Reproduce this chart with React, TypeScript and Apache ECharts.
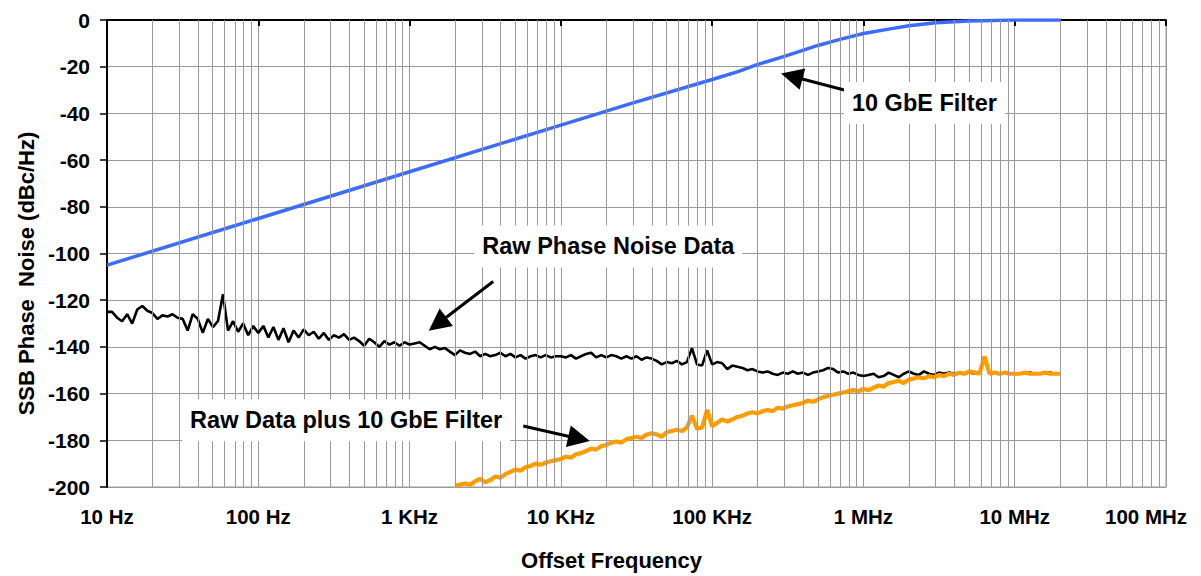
import React, { useEffect, useRef } from "react";
import * as echarts from "echarts";

// ---- axis definitions ----
const FREQ_TICK_LABELS = ["10 Hz", "100 Hz", "1 KHz", "10 KHz", "100 KHz", "1 MHz", "10 MHz", "100 MHz"];
const FREQ_MIN = 10;
const FREQ_MAX = 1e8;
const DB_MIN = -200;
const DB_MAX = 0;
const DB_STEP = 20;
const X_TITLE = "Offset Frequency";
const Y_TITLE = "SSB Phase  Noise (dBc/Hz)";

// ---- 10 GbE filter (blue) ----
const filterFreqHz = [10, 100, 1e3, 1e4, 3e4, 1e5, 1.5e5, 2e5, 3e5, 5e5, 7e5, 1e6, 1.5e6, 2e6, 3e6, 5e6, 1e7, 2e7];
const filterDb = [-105, -85, -65, -45, -35.5, -25.5, -22, -19, -15.6, -10.9, -8.3, -5.8, -3.8, -2.5, -1.2, -0.4, 0, 0];

// ---- raw phase noise (black): 30 samples per decade starting at 10 Hz ----
const rawStartExp = 1;
const rawPerDecade = 30;
const rawNoiseDb = [
  // 10 Hz .. 100 Hz
  -125, -125, -127.5, -129, -126, -130, -124, -122.5, -124.5, -125.5,
  -128, -126.5, -127, -126, -127.5, -128, -133, -126, -128, -134,
  -128, -131.5, -129, -117.5, -133, -129, -133.5, -130, -135, -131,
  // 100 Hz .. 1 kHz
  -134, -131, -136, -131.5, -137, -132, -138, -133, -136, -132.5,
  -135, -133.5, -136.5, -134, -137, -135, -136, -134.5, -137, -136,
  -137.5, -139.5, -136.5, -138, -140, -137.5, -139, -138, -139.5, -138,
  // 1 kHz .. 10 kHz
  -139, -138.5, -138, -139.5, -141, -140, -141, -140.5, -142, -143.5,
  -141.5, -142.5, -143, -142, -144, -143, -144, -143.5, -142.5, -144,
  -143, -144.5, -143.5, -145, -144, -143.5, -144.5, -143.5, -144.5, -144,
  // 10 kHz .. 100 kHz
  -144, -144.5, -143.5, -145, -144, -143, -142.5, -144.5, -143.5, -144.5,
  -143.5, -144, -145, -144, -145, -144, -145.5, -144.5, -145, -146,
  -147.5, -146.5, -147, -146, -147.5, -146.5, -140.5, -147.5, -148, -141.5,
  // 100 kHz .. 1 MHz
  -147.5, -146.5, -147, -149.5, -148, -148.5, -149, -150, -149.5, -150.5,
  -151, -150.5, -151.5, -152, -151, -151.5, -150.5, -151.5, -151, -152,
  -151, -150.5, -150, -149, -149.5, -151, -150.5, -151.5, -151, -152,
  // 1 MHz .. 10 MHz
  -152.5, -152, -151.5, -153, -152.5, -151, -152, -153, -151.5, -150.5,
  -151.5, -152, -150.5, -151.5, -152, -151, -151.5, -151, -151.5, -151,
  -151.5, -151, -151.5, -151, -145, -151.5, -151, -151.5, -151.5, -151.5,
  // 10 MHz .. 20 MHz
  -151.5, -151.5, -151.5, -151, -151.5, -151.5, -151.5, -151, -151.5, -151.5,
];

// ---- raw data plus filter (orange): 30 samples per decade starting at 2 kHz ----
const combinedStartExp = 3.3;
const combinedPerDecade = 30;
const combinedDb = [
  -199.5, -199, -198.5, -199, -197.5, -196.5, -198, -197, -195.5, -196,
  -194.5, -193.5, -192.5, -193, -191.5, -191, -190, -190.5, -189.5, -189,
  -188.5, -188, -187, -187.5, -186, -185.5, -184.5, -183.5, -184, -182.5,
  -182, -181, -180.5, -181, -179.5, -179, -178.5, -179, -177.5, -177,
  -177.5, -178.5, -176.5, -176, -175.5, -176, -174.5, -169.5, -175, -174.5,
  -167, -174, -172.5, -171, -172, -171, -170, -169.5, -168.5, -168,
  -168.5, -167.5, -167, -167.5, -166, -166.5, -165.5, -165, -164.5, -164,
  -163, -163.5, -162.5, -161.5, -161, -160.5, -160, -159.5, -159, -158.5,
  -159, -158, -158.5, -157.5, -156.5, -157, -155.5, -155, -154.5, -155.5,
  -154, -153.5, -153, -153.5, -152.5, -153, -152, -152.5, -151.5, -152,
  -151, -151.5, -150.5, -151, -151.5, -144, -151.5, -151, -151.5, -151,
  -151.5, -151.5, -151.5, -151, -151.5, -151.5, -151.5, -151, -151.5, -151.5,
  -151.5,
];

// ---- annotations (data coordinates: [Hz, dB]) ----
const annotationTexts = ["10 GbE Filter", "Raw Phase Noise Data", "Raw Data plus 10 GbE Filter"];
const annotationTextAt: [number, number][] = [[2.53e6, -35.5], [2.06e4, -97], [381, -171.4]];
const arrowFrom: [number, number][] = [[7.69e5, -30.2], [3.57e3, -112.0], [5.64e3, -173.9]];
const arrowTo: [number, number][] = [[3.36e5, -24.1], [1.53e3, -130.2], [1.32e4, -179.3]];

const FONT = 'Arial, "Liberation Sans", Helvetica, sans-serif';
const GRID_GRAY = "#9a9a9a";

function sampled(startExp: number, perDecade: number, values: number[]): [number, number][] {
  return values.map((v, i) => [Math.pow(10, startExp + i / perDecade), v]);
}

function minorGridFreqs(): number[] {
  const out: number[] = [];
  for (let d = 1; d < 8; d++) {
    for (let m = 2; m <= 9; m++) out.push(m * Math.pow(10, d));
  }
  return out;
}

export default function App() {
  const ref = useRef<HTMLDivElement>(null);

  useEffect(() => {
    if (!ref.current) return;
    const chart = echarts.init(ref.current, undefined, { renderer: "svg" });

    const option: any = {
      animation: false,
      backgroundColor: "#ffffff",
      grid: {
        left: 107,
        right: 35,
        top: 20,
        bottom: 88,
        containLabel: false,
        show: true,
        borderColor: GRID_GRAY,
        borderWidth: 1,
      },
      xAxis: {
        type: "log",
        logBase: 10,
        min: FREQ_MIN,
        max: FREQ_MAX,
        interval: 1,
        name: X_TITLE,
        nameLocation: "middle",
        nameGap: 62,
        nameTextStyle: {
          fontFamily: FONT,
          fontWeight: "bold",
          fontSize: 22,
          color: "#000",
          padding: [0, 50, 0, 0],
        },
        axisLine: { show: true, lineStyle: { color: "#000", width: 2 } },
        axisTick: { show: true, length: 6, lineStyle: { color: "#000", width: 2 } },
        minorTick: { show: false },
        splitLine: { show: true, lineStyle: { color: GRID_GRAY, width: 1 } },
        axisLabel: {
          margin: 19,
          fontFamily: FONT,
          fontWeight: "bold",
          fontSize: 20.5,
          color: "#000",
          formatter: (v: number) => {
            const i = Math.round(Math.log10(v)) - 1;
            const t = FREQ_TICK_LABELS[i] ?? "";
            return i === FREQ_TICK_LABELS.length - 1 ? `{last|${t}}` : t;
          },
          rich: {
            last: {
              fontFamily: FONT,
              fontWeight: "bold",
              fontSize: 20.5,
              color: "#000",
              padding: [0, 40, 0, 0],
            },
          },
        },
      },
      yAxis: {
        type: "value",
        min: DB_MIN,
        max: DB_MAX,
        interval: DB_STEP,
        name: Y_TITLE,
        nameLocation: "middle",
        nameRotate: 90,
        nameGap: 70,
        nameTextStyle: {
          fontFamily: FONT,
          fontWeight: "bold",
          fontSize: 22,
          color: "#000",
          padding: [0, 40, 0, 0],
        },
        axisLine: { show: true, lineStyle: { color: "#000", width: 2 } },
        axisTick: { show: true, length: 7, lineStyle: { color: "#000", width: 1.5 } },
        splitLine: { show: true, lineStyle: { color: GRID_GRAY, width: 1 } },
        axisLabel: {
          margin: 17,
          fontFamily: FONT,
          fontWeight: "bold",
          fontSize: 21,
          color: "#000",
        },
      },
      series: [
        {
          name: "minor grid",
          type: "line",
          data: [],
          z: 1,
          silent: true,
          markLine: {
            silent: true,
            symbol: ["none", "none"],
            label: { show: false },
            lineStyle: { color: GRID_GRAY, width: 1, type: "solid" },
            emphasis: { disabled: true },
            data: minorGridFreqs().map((f) => ({ xAxis: f })),
          },
        },
        {
          name: "10 GbE Filter",
          type: "line",
          z: 3,
          showSymbol: false,
          smooth: false,
          lineStyle: { color: "#3b6cff", width: 3.5 },
          itemStyle: { color: "#3b6cff" },
          data: filterFreqHz.map((f, i) => [f, filterDb[i]]),
        },
        {
          name: "Raw Phase Noise Data",
          type: "line",
          z: 3,
          showSymbol: false,
          lineStyle: { color: "#000000", width: 2.6 },
          itemStyle: { color: "#000000" },
          data: sampled(rawStartExp, rawPerDecade, rawNoiseDb),
        },
        {
          name: "Raw Data plus 10 GbE Filter",
          type: "line",
          z: 4,
          showSymbol: false,
          lineStyle: { color: "#ff9c00", width: 4.2 },
          itemStyle: { color: "#ff9c00" },
          data: sampled(combinedStartExp, combinedPerDecade, combinedDb),
          markLine: {
            silent: true,
            symbol: ["none", "triangle"],
            symbolSize: 22,
            label: { show: false },
            lineStyle: { color: "#000", width: 3, type: "solid" },
            itemStyle: { color: "#000" },
            emphasis: { disabled: true },
            data: arrowFrom.map((from, i) => [
              { coord: from },
              { coord: arrowTo[i] },
            ]),
          },
          markPoint: {
            silent: true,
            symbol: "rect",
            symbolSize: 1,
            itemStyle: { color: "rgba(255,255,255,0)" },
            label: {
              show: true,
              position: "inside",
              fontFamily: FONT,
              fontWeight: "bold",
              fontSize: 23.5,
              color: "#000",
              backgroundColor: "#ffffff",
              padding: [10, 8, 8, 8],
              formatter: (p: any) => p.name,
            },
            data: annotationTexts.map((t, i) => ({ name: t, coord: annotationTextAt[i] })),
          },
        },
      ],
    };

    chart.setOption(option);
    return () => chart.dispose();
  }, []);

  return (
    <div
      ref={ref}
      style={{ position: "absolute", left: 0, top: 0, width: 1201, height: 576, background: "#fff" }}
    />
  );
}
